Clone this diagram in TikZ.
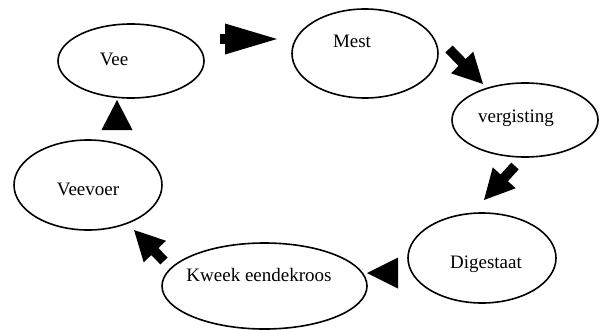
\documentclass[tikz,border=0pt]{standalone}
\usepackage{fontspec}
\setmainfont{Liberation Serif}
\newfontfamily\diagserif{Liberation Serif}
\usetikzlibrary{shapes.geometric,calc}
\newcommand\blockarr[3]{%
  \coordinate (hb) at ($(#2)!#3!(#1)$);
  \draw[line width=10pt] (#1) -- ($(hb)!1pt!(#2)$);
  \fill (#2) -- ($(hb)!15.5pt!90:(#2)$) -- ($(hb)!15.5pt!-90:(#2)$) -- cycle;
}
\begin{document}
\begin{tikzpicture}[x=1pt,y=-1pt,
  bubble/.style={draw, ellipse, line width=1.6pt, inner sep=0pt},
  lbl/.style={anchor=base, inner sep=0pt, font=\diagserif\fontsize{19}{22}\selectfont}]
\useasboundingbox (0,0) rectangle (601,329);
% ellipses
\node[bubble, minimum width=146pt, minimum height=74pt] (vee) at (131,61) {};
\node[bubble, minimum width=146pt, minimum height=89pt] (mest) at (365,53.5) {};
\node[bubble, minimum width=146pt, minimum height=74pt] (verg) at (525,120) {};
\node[bubble, minimum width=148pt, minimum height=90pt] (veevoer) at (88,185) {};
\node[bubble, minimum width=205pt, minimum height=86pt] (kweek) at (264.5,286) {};
\node[bubble, minimum width=148pt, minimum height=90pt] (dig) at (482,258) {};
% labels
\node[lbl] (veeT) at (114,65) {Vee};
\node[lbl] (mestT) at (352,48) {Mest};
\node[lbl] (vergT) at (516,122) {vergisting};
\node[lbl] (veevoerT) at (88,195) {Veevoer};
\node[lbl] (kweekT) at (259,281) {Kweek eendekroos};
\node[lbl] (digT) at (486,268) {Digestaat};
% arrow end points
\coordinate (a1s) at (220,39);  \coordinate (a1e) at (277,39);
\coordinate (a2s) at (449,49);  \coordinate (a2e) at (483,84);
\coordinate (a3s) at (515,166); \coordinate (a3e) at (484,200);
\coordinate (a4s) at (398,273); \coordinate (a4e) at (367,273);
\coordinate (a5s) at (164,261); \coordinate (a5e) at (134,230);
\coordinate (a6s) at (117,130); \coordinate (a6e) at (117,100);
% arrows
\blockarr{a1s}{a1e}{52pt}
\blockarr{a2s}{a2e}{30pt}
\blockarr{a3s}{a3e}{30pt}
\blockarr{a4s}{a4e}{31pt}
\blockarr{a5s}{a5e}{30pt}
\blockarr{a6s}{a6e}{30pt}
\end{tikzpicture}
\end{document}
